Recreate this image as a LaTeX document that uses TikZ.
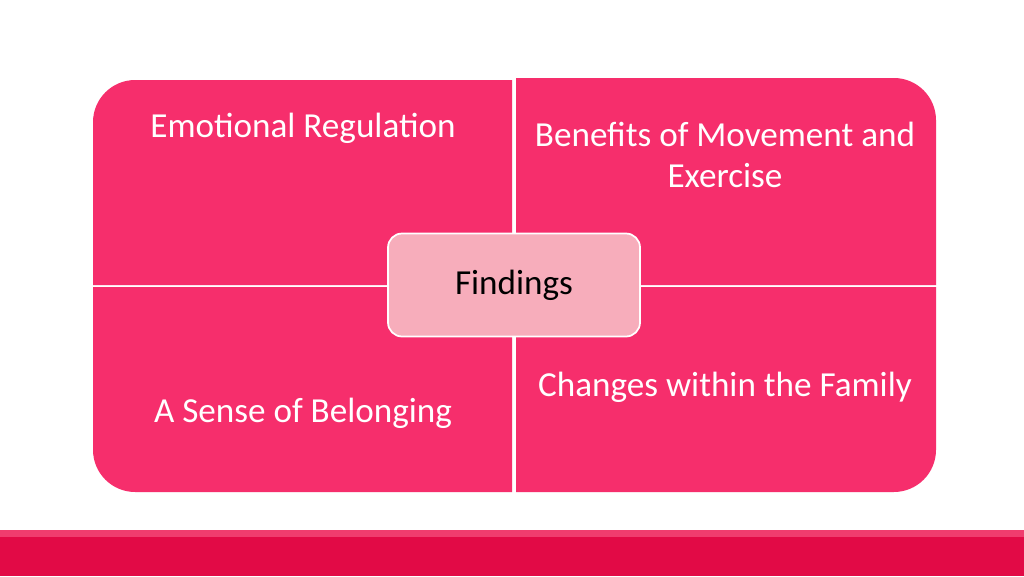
\documentclass[tikz,border=0pt]{standalone}
\usepackage{fontspec}
\setmainfont{Carlito}
\definecolor{quadpink}{RGB}{246,46,108}
\definecolor{centrepink}{RGB}{247,173,187}
\definecolor{barred}{RGB}{226,10,70}
\definecolor{barline}{RGB}{240,60,110}
\tikzset{
    quad/.style={fill=quadpink},
    quadtext/.style={text=white, font=\fontsize{20}{23}\selectfont, align=center},
}
\begin{document}
\begin{tikzpicture}[x=0.02cm,y=0.02cm]
    \useasboundingbox[fill=white] (0,0) rectangle (1024,576);
    % bottom bar
    \fill[barred] (0,0) rectangle (1024,46);
    \fill[barline] (0,39) rectangle (1024,46);
    % quadrants
    \fill[quad] (512,291) -- (93,291) [rounded corners=24pt] -- (93,496) [sharp corners] -- (512,496) -- cycle;
    \fill[quad] (516,291) -- (936,291) [rounded corners=24pt] -- (936,498) [sharp corners] -- (516,498) -- cycle;
    \fill[quad] (512,289) -- (93,289) [rounded corners=24pt] -- (93,84) [sharp corners] -- (512,84) -- cycle;
    \fill[quad] (516,289) -- (936,289) [rounded corners=24pt] -- (936,84) [sharp corners] -- (516,84) -- cycle;
    % labels
    \node[quadtext] (emotion) at (303,448) {Emotional Regulation};
    \node[quadtext] (exercise) at (725,421) {Benefits of Movement and\\Exercise};
    \node[quadtext] (belong) at (303,163) {A Sense of Belonging};
    \node[quadtext] (family) at (725,189) {Changes within the Family};
    % centre
    \node[fill=centrepink, draw=white, line width=1pt, rounded corners=8pt,
          minimum width=252*0.02cm, minimum height=103*0.02cm,
          font=\fontsize{20}{23}\selectfont] (findings) at (514,291) {Findings};
\end{tikzpicture}
\end{document}
